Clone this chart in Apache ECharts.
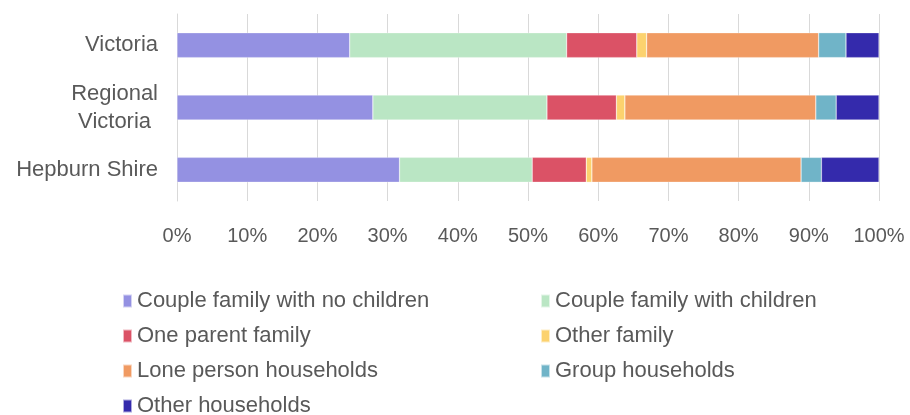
<!DOCTYPE html>
<html>
<head>
<meta charset="utf-8">
<script src="https://cdn.jsdelivr.net/npm/echarts@6/dist/echarts.min.js"></script>
<style>
  html, body { margin: 0; padding: 0; background: #fff; }
  #chart { width: 910px; height: 415px; }
</style>
</head>
<body>
<div id="chart"></div>
<script>
// Household composition by area (share of households, %)
const areas = ['Victoria', 'Regional Victoria', 'Hepburn Shire'];

const coupleNoChildren   = [24.6, 27.9, 31.7];
const coupleWithChildren = [30.9, 24.8, 18.9];
const oneParent          = [10.0,  9.9,  7.7];
const otherFamily        = [ 1.4,  1.2,  0.8];
const lonePerson         = [24.5, 27.2, 29.8];
const groupHouseholds    = [ 3.9,  2.9,  2.9];
const otherHouseholds    = [ 4.7,  6.1,  8.2];

const seriesNames = [
  'Couple family with no children',
  'Couple family with children',
  'One parent family',
  'Other family',
  'Lone person households',
  'Group households',
  'Other households'
];
const seriesValues = [
  coupleNoChildren, coupleWithChildren, oneParent, otherFamily,
  lonePerson, groupHouseholds, otherHouseholds
];
const palette = ['#9491E2', '#BAE6C4', '#DB5266', '#FCD26E', '#F09A62', '#70B4C8', '#342AAC'];

const FONT = '"Liberation Sans", Arial, sans-serif';
const TEXT = '#595959';

const chart = echarts.init(document.getElementById('chart'), null, { renderer: 'canvas' });

const legendText = { fontFamily: FONT, fontSize: 22, color: TEXT };
const legendBase = {
  orient: 'vertical', top: 290, height: 160, padding: 0,
  itemWidth: 9, itemHeight: 13, itemGap: 13,
  icon: 'rect',
  textStyle: legendText
};

chart.setOption({
  animation: false,
  color: palette,
  grid: { left: 177, right: 31, top: 14, bottom: 214, containLabel: false },
  legend: [
    Object.assign({}, legendBase, {
      left: 122,
      data: [seriesNames[0], seriesNames[2], seriesNames[4], seriesNames[6]]
    }),
    Object.assign({}, legendBase, {
      left: 540,
      data: [seriesNames[1], seriesNames[3], seriesNames[5]]
    })
  ],
  xAxis: {
    type: 'value', min: 0, max: 100, interval: 10,
    axisLine: { show: false },
    axisTick: { show: false },
    splitLine: { show: true, lineStyle: { color: '#D9D9D9', width: 1 } },
    axisLabel: {
      formatter: '{value}%', margin: 25,
      fontFamily: FONT, fontSize: 20, color: TEXT
    }
  },
  yAxis: {
    type: 'category', data: areas, inverse: true,
    axisLine: { show: true, lineStyle: { color: '#D9D9D9' } },
    axisTick: { show: false },
    axisLabel: {
      margin: 19, fontFamily: FONT, fontSize: 22, color: TEXT, lineHeight: 28,
      formatter: function (v) {
        if (v === 'Regional Victoria') return '{c|Regional}\n{c|Victoria}';
        return '{r|' + v + '}';
      },
      rich: {
        c: { align: 'center', fontFamily: FONT, fontSize: 22, color: TEXT, lineHeight: 28 },
        r: { fontFamily: FONT, fontSize: 22, color: TEXT }
      }
    }
  },
  series: seriesNames.map((name, i) => ({
    name: name,
    type: 'bar',
    stack: 'total',
    barWidth: '40%',
    data: seriesValues[i],
    itemStyle: { color: palette[i], borderColor: 'rgba(255,255,255,0.6)', borderWidth: 0.5 }
  }))
});
</script>
</body>
</html>
